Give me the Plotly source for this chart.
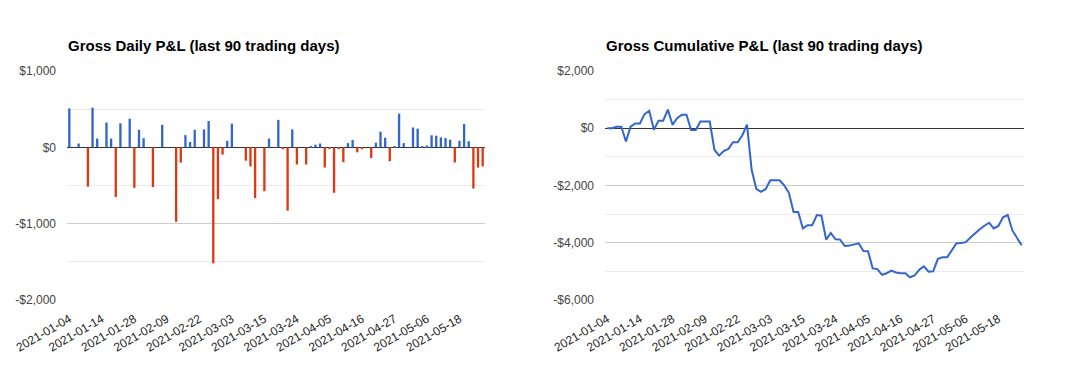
import plotly.graph_objects as go

dates = [
    "2021-01-04", "2021-01-05", "2021-01-07", "2021-01-08", "2021-01-11", "2021-01-12", "2021-01-13",
    "2021-01-14", "2021-01-15", "2021-01-19", "2021-01-20", "2021-01-21", "2021-01-25", "2021-01-26",
    "2021-01-28", "2021-01-29", "2021-02-01", "2021-02-02", "2021-02-04", "2021-02-05", "2021-02-08",
    "2021-02-09", "2021-02-10", "2021-02-11", "2021-02-16", "2021-02-17", "2021-02-18", "2021-02-19",
    "2021-02-22", "2021-02-23", "2021-02-24", "2021-02-25", "2021-02-26", "2021-03-01", "2021-03-02",
    "2021-03-03", "2021-03-04", "2021-03-05", "2021-03-08", "2021-03-10", "2021-03-11", "2021-03-12",
    "2021-03-15", "2021-03-16", "2021-03-17", "2021-03-18", "2021-03-19", "2021-03-22", "2021-03-23",
    "2021-03-24", "2021-03-25", "2021-03-26", "2021-03-29", "2021-03-30", "2021-03-31", "2021-04-01",
    "2021-04-05", "2021-04-06", "2021-04-07", "2021-04-09", "2021-04-12", "2021-04-14", "2021-04-15",
    "2021-04-16", "2021-04-19", "2021-04-20", "2021-04-21", "2021-04-22", "2021-04-23", "2021-04-26",
    "2021-04-27", "2021-04-28", "2021-04-29", "2021-04-30", "2021-05-03", "2021-05-04", "2021-05-05",
    "2021-05-06", "2021-05-07", "2021-05-10", "2021-05-11", "2021-05-13", "2021-05-14", "2021-05-17",
    "2021-05-18", "2021-05-19", "2021-05-20", "2021-05-21", "2021-05-24", "2021-05-25",
]

daily_pnl = [
    510, 0, 50, 0, -515, 520, 115, 0, 325, 115,
    -650, 315, 0, 375, -530, 230, 120, 0, -520, 0,
    295, 0, 0, -975, -200, 160, 70, 230, 0, 235,
    345, -1520, -680, -95, 85, 310, 0, 0, -175, -250,
    -665, 0, -575, 115, 0, 360, -25, -830, 235, -225,
    0, -225, 15, 35, 50, -265, -10, -595, -22, -195,
    55, 95, -65, -25, 0, -140, 60, 205, 125, -182,
    18, 440, 55, 0, 260, 245, 10, 25, 158, 152,
    130, 122, 100, -198, 85, 305, 80, -540, -265, -250,
]

cumulative_pnl = [
    0, 0, 50, 50, -465, 55, 170, 170, 495, 610,
    -50, 265, 265, 650, 120, 350, 470, 470, -60, -60,
    235, 235, 235, -750, -955, -795, -720, -490, -490, -245,
    125, -1450, -2120, -2220, -2130, -1820, -1820, -1820, -1995, -2255,
    -2925, -2925, -3500, -3385, -3385, -3030, -3055, -3890, -3655, -3880,
    -3890, -4115, -4100, -4070, -4020, -4285, -4295, -4895, -4920, -5120,
    -5065, -4975, -5040, -5065, -5065, -5205, -5145, -4945, -4825, -5010,
    -4995, -4565, -4510, -4510, -4260, -4020, -4005, -3980, -3820, -3665,
    -3530, -3405, -3300, -3500, -3415, -3110, -3030, -3570, -3840, -4090,
]

x_tick_labels = [
    "2021-01-04", "2021-01-14", "2021-01-28", "2021-02-09", "2021-02-22", "2021-03-03", "2021-03-15",
    "2021-03-24", "2021-04-05", "2021-04-16", "2021-04-27", "2021-05-06", "2021-05-18",
]

daily_ticks = [-2000, -1000, 0, 1000]
daily_tick_text = ["-$2,000", "-$1,000", "$0", "$1,000"]
cum_ticks = [-6000, -4000, -2000, 0, 2000]
cum_tick_text = ["-$6,000", "-$4,000", "-$2,000", "$0", "$2,000"]

BLUE = "#3366cc"
RED = "#dc3912"
FONT = "Liberation Sans, Arial, sans-serif"

# page body has an 8px margin, so the figure is placed at (8, 8) in the window
OFF = 8
W, H = 1070 - OFF, 371 - OFF
bar_colors = [BLUE if v >= 0 else RED for v in daily_pnl]

fig = go.Figure()
fig.add_trace(go.Bar(
    x=dates, y=daily_pnl, marker=dict(color=bar_colors, line=dict(width=0)),
    xaxis="x", yaxis="y", hoverinfo="skip",
))
fig.add_trace(go.Scatter(
    x=dates, y=cumulative_pnl, mode="lines", line=dict(color=BLUE, width=2),
    xaxis="x2", yaxis="y2", hoverinfo="skip",
))


def px_x(v):
    return (v - OFF) / W


def px_y(v):
    return 1 - (v - OFF) / H


top, bottom = px_y(71), px_y(300)

xcommon = dict(
    type="category", tickmode="array", tickvals=x_tick_labels, ticktext=x_tick_labels,
    tickangle=-30, showgrid=False, zeroline=False, showline=False, ticks="",
    tickfont=dict(family=FONT, size=12, color="#222222"), range=[-0.5, 89.5],
    automargin=False, ticklabelstandoff=9,
)
ycommon = dict(
    tickmode="array", showgrid=True, gridcolor="#cccccc", gridwidth=1,
    zeroline=True, zerolinecolor="#333333", zerolinewidth=1, showline=False, ticks="",
    tickfont=dict(family=FONT, size=12, color="#444444"), ticklabelstandoff=10,
    automargin=False,
)

fig.update_layout(
    width=W, height=H, margin=dict(l=0, r=0, t=0, b=0, autoexpand=False),
    paper_bgcolor="white", plot_bgcolor="white", showlegend=False,
    bargap=0.5,
    xaxis=dict(domain=[px_x(67), px_x(485)], anchor="y", **xcommon),
    xaxis2=dict(domain=[px_x(605), px_x(1024)], anchor="y2", **xcommon),
    yaxis=dict(domain=[bottom, top], anchor="x", range=[-2000, 1000],
               tickvals=daily_ticks, ticktext=daily_tick_text,
               minor=dict(tickmode="array", tickvals=[-1500, -500, 500], showgrid=True,
                          gridcolor="#ebebeb", ticks=""),
               **ycommon),
    yaxis2=dict(domain=[bottom, top], anchor="x2", range=[-6000, 2000],
                tickvals=cum_ticks, ticktext=cum_tick_text,
                minor=dict(tickmode="array", tickvals=[-5000, -3000, -1000, 1000], showgrid=True,
                           gridcolor="#ebebeb", ticks=""),
                **ycommon),
    annotations=[
        dict(text="<b>Gross Daily P&L (last 90 trading days)</b>", xref="paper", yref="paper",
             x=px_x(66), y=px_y(46), xanchor="left", yanchor="middle", showarrow=False,
             font=dict(family=FONT, size=15, color="#000000")),
        dict(text="<b>Gross Cumulative P&L (last 90 trading days)</b>", xref="paper", yref="paper",
             x=px_x(604), y=px_y(46), xanchor="left", yanchor="middle", showarrow=False,
             font=dict(family=FONT, size=15, color="#000000")),
    ],
)

fig.write_html("out.html")
